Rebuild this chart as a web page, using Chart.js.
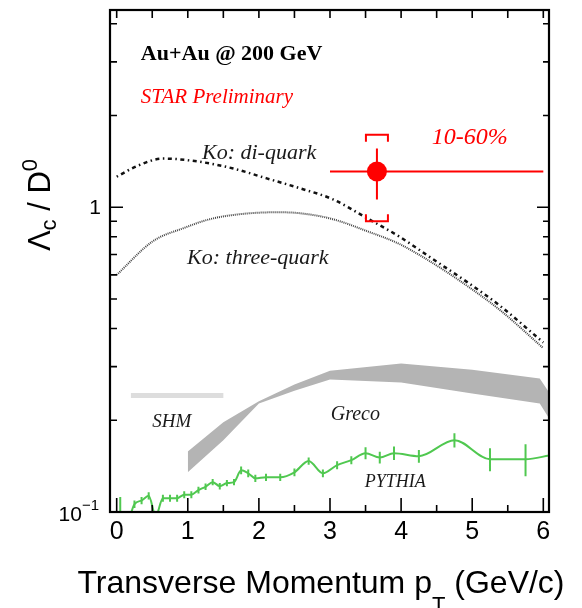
<!DOCTYPE html>
<html><head><meta charset="utf-8">
<script src="https://cdn.jsdelivr.net/npm/chart.js@4/dist/chart.umd.min.js"></script>
<style>html,body{margin:0;padding:0;background:#fff}#wrap{width:582px;height:608px}</style>
</head><body><div id="wrap"><canvas id="c" width="582" height="608"></canvas></div>
<script>
// ---------- data ----------
const xTickLabels = ['0','1','2','3','4','5','6'];
const xMajorTicks = [0,1,2,3,4,5,6];
const xMinorTicks = [0.5,1.5,2.5,3.5,4.5,5.5];
const yMajorTicks = [0.1,1];
const yMinorTicks = [0.2,0.3,0.4,0.5,0.6,0.7,0.8,0.9,2,3,4];

const koDiX = [0, 0.3, 0.65, 1.17, 1.64, 2.11, 2.58, 3.04, 3.52, 3.98, 4.45, 4.93, 5.39, 6.0];
const koDiY = [1.26, 1.37, 1.445, 1.41, 1.34, 1.244, 1.154, 1.062, 0.921, 0.80, 0.675, 0.568, 0.475, 0.36];

const koThreeX = [0, 0.51, 0.94, 1.31, 1.73, 2.25, 2.58, 3.04, 3.52, 3.98, 4.45, 4.93, 5.39, 6.0];
const koThreeY = [0.60, 0.774, 0.854, 0.914, 0.949, 0.963, 0.956, 0.914, 0.835, 0.757, 0.655, 0.552, 0.46, 0.345];

const grecoX = [1.0, 1.5, 2.0, 2.5, 3.0, 4.0, 5.0, 5.95, 6.08];
const grecoHi = [0.158, 0.197, 0.231, 0.262, 0.291, 0.307, 0.293, 0.274, 0.247];
const grecoLo = [0.135, 0.172, 0.227, 0.250, 0.272, 0.266, 0.245, 0.227, 0.203];

const shmX = [0.2, 1.5];
const shmY = [0.241, 0.241];

const pyX = [0.05,0.25,0.35,0.45,0.55,0.65,0.75,0.85,0.95,1.05,1.15,1.25,1.35,1.45,1.55,1.65,1.75,1.85,1.95,2.1,2.3,2.5,2.7,2.9,3.1,3.3,3.5,3.7,3.9,4.25,4.75,5.25,5.75,6.1];
const pyY = [0.07,0.106,0.109,0.113,0.097,0.111,0.111,0.111,0.114,0.114,0.118,0.121,0.1253,0.1216,0.1244,0.1253,0.137,0.134,0.129,0.130,0.130,0.135,0.147,0.134,0.1425,0.148,0.156,0.151,0.156,0.1525,0.172,0.149,0.149,0.1535];
const pyErr = [0.042,0.003,0.003,0.003,0.003,0.003,0.003,0.003,0.003,0.003,0.003,0.003,0.003,0.003,0.003,0.003,0.004,0.004,0.0035,0.0035,0.0035,0.004,0.004,0.004,0.0043,0.0045,0.007,0.0068,0.008,0.0073,0.0093,0.013,0.018,0];

const starX = [3.66];
const starY = [1.31];
const starXLo = [0.66], starXHi = [2.34];
const starStatLo = [0.25], starStatHi = [0.25];
const starSysLo = [0.41], starSysHi = [0.42];

// ---------- helpers ----------
const pts = (xs, ys) => xs.map((v, i) => ({x: v, y: ys[i]}));
const SANS = '"Liberation Sans", Arial, sans-serif';
const SERIF = '"Liberation Serif", "Times New Roman", serif';

const errorPlugin = {
  id: 'errs',
  beforeDatasetDraw(chart, args) {
    const ds = chart.data.datasets[args.index];
    if (ds.label !== 'STAR') return;
    const {ctx, chartArea: a, scales: {x, y}} = chart;
    ctx.save();
    ctx.beginPath(); ctx.rect(a.left, a.top, a.right - a.left, a.bottom - a.top); ctx.clip();
    ctx.strokeStyle = '#ff0000'; ctx.lineWidth = 2;
    starX.forEach((xv, i) => {
      const px = x.getPixelForValue(xv), py = y.getPixelForValue(starY[i]);
      ctx.beginPath();
      ctx.moveTo(x.getPixelForValue(xv - starXLo[i]), py);
      ctx.lineTo(x.getPixelForValue(xv + starXHi[i]), py);
      ctx.moveTo(px, y.getPixelForValue(starY[i] + starStatHi[i]));
      ctx.lineTo(px, y.getPixelForValue(starY[i] - starStatLo[i]));
      ctx.stroke();
      const top = y.getPixelForValue(starY[i] + starSysHi[i]);
      const bot = y.getPixelForValue(starY[i] - starSysLo[i]);
      const hw = 11, leg = 7;
      ctx.beginPath();
      ctx.moveTo(px - hw, top + leg); ctx.lineTo(px - hw, top); ctx.lineTo(px + hw, top); ctx.lineTo(px + hw, top + leg);
      ctx.moveTo(px - hw, bot - leg); ctx.lineTo(px - hw, bot); ctx.lineTo(px + hw, bot); ctx.lineTo(px + hw, bot - leg);
      ctx.stroke();
    });
    ctx.restore();
  },
  afterDatasetDraw(chart, args) {
    const ds = chart.data.datasets[args.index];
    if (ds.label !== 'PYTHIA') return;
    const {ctx, chartArea: a, scales: {x, y}} = chart;
    ctx.save();
    ctx.beginPath(); ctx.rect(a.left, a.top, a.right - a.left, a.bottom - a.top); ctx.clip();
    ctx.strokeStyle = ds.borderColor; ctx.lineWidth = 2;
    ctx.beginPath();
    pyX.forEach((xv, i) => {
      if (!pyErr[i]) return;
      const px = x.getPixelForValue(xv);
      ctx.moveTo(px, y.getPixelForValue(pyY[i] + pyErr[i]));
      ctx.lineTo(px, y.getPixelForValue(Math.max(pyY[i] - pyErr[i], 0.01)));
    });
    ctx.stroke();
    ctx.restore();
  }
};

const framePlugin = {
  id: 'frame',
  afterDraw(chart) {
    const {ctx, chartArea: a, scales: {x, y}} = chart;
    ctx.save();
    ctx.strokeStyle = '#000';
    ctx.lineWidth = 1.6;
    ctx.beginPath();
    xMajorTicks.forEach(v => { const p = x.getPixelForValue(v);
      ctx.moveTo(p, a.bottom); ctx.lineTo(p, a.bottom - 14);
      ctx.moveTo(p, a.top); ctx.lineTo(p, a.top + 8); });
    xMinorTicks.forEach(v => { const p = x.getPixelForValue(v);
      ctx.moveTo(p, a.bottom); ctx.lineTo(p, a.bottom - 7);
      ctx.moveTo(p, a.top); ctx.lineTo(p, a.top + 8); });
    yMajorTicks.forEach(v => { const p = y.getPixelForValue(v);
      ctx.moveTo(a.left, p); ctx.lineTo(a.left + 13, p);
      ctx.moveTo(a.right, p); ctx.lineTo(a.right - 12, p); });
    yMinorTicks.forEach(v => { const p = y.getPixelForValue(v);
      ctx.moveTo(a.left, p); ctx.lineTo(a.left + 7, p);
      ctx.moveTo(a.right, p); ctx.lineTo(a.right - 6, p); });
    ctx.stroke();
    ctx.lineWidth = 2.2;
    ctx.strokeRect(a.left, a.top, a.right - a.left, a.bottom - a.top);

    // tick labels
    ctx.fillStyle = '#000';
    ctx.font = '25px ' + SANS;
    ctx.textAlign = 'center'; ctx.textBaseline = 'alphabetic';
    xMajorTicks.forEach((v, i) => ctx.fillText(xTickLabels[i], x.getPixelForValue(v), a.bottom + 27));
    ctx.font = '21px ' + SANS;
    ctx.textAlign = 'right';
    ctx.fillText('1', a.left - 9, y.getPixelForValue(1) + 7);
    const yb = y.getPixelForValue(0.1);
    ctx.font = '15px ' + SANS;
    const supW = ctx.measureText('\u22121').width;
    ctx.fillText('\u22121', a.left - 11, yb - 2);
    ctx.font = '21px ' + SANS;
    ctx.fillText('10', a.left - 11 - supW, yb + 9);

    // x title
    const xt = [['Transverse Momentum p', 32, 0], ['T', 22, 19], [' (GeV/c)', 32, 0]];
    let tw = 0;
    xt.forEach(p => { ctx.font = p[1] + 'px ' + SANS; tw += ctx.measureText(p[0]).width; });
    let cx = 321 - tw / 2;
    ctx.textAlign = 'left';
    xt.forEach(p => { ctx.font = p[1] + 'px ' + SANS; ctx.fillText(p[0], cx, 593 + p[2]); cx += ctx.measureText(p[0]).width; });

    // y title
    ctx.save();
    ctx.translate(50, 205);
    ctx.rotate(-Math.PI / 2);
    const yt = [['\u039B', 31, 0], ['c', 22, 6], [' / D', 31, 0], ['0', 22, -13]];
    tw = 0;
    yt.forEach(p => { ctx.font = p[1] + 'px ' + SANS; tw += ctx.measureText(p[0]).width; });
    cx = -tw / 2;
    yt.forEach(p => { ctx.font = p[1] + 'px ' + SANS; ctx.fillText(p[0], cx, p[2]); cx += ctx.measureText(p[0]).width; });
    ctx.restore();

    // annotations
    const txt = (s, xv, yv, font, color) => {
      ctx.font = font; ctx.fillStyle = color; ctx.textAlign = 'left';
      ctx.fillText(s, x.getPixelForValue(xv), y.getPixelForValue(yv));
    };
    txt('Au+Au @ 200 GeV', 0.34, 3.05, 'bold 22px ' + SERIF, '#000');
    txt('STAR Preliminary', 0.34, 2.20, 'italic 21px ' + SERIF, '#ff0000');
    txt('10-60%', 4.43, 1.607, 'italic 24px ' + SERIF, '#ff0000');
    txt('Ko: di-quark', 1.20, 1.435, 'italic 22px ' + SERIF, '#1a1a1a');
    txt('Ko: three-quark', 0.99, 0.651, 'italic 22px ' + SERIF, '#1a1a1a');
    txt('SHM', 0.50, 0.19, 'italic 19px ' + SERIF, '#1a1a1a');
    txt('Greco', 3.01, 0.201, 'italic 20px ' + SERIF, '#1a1a1a');
    txt('PYTHIA', 3.49, 0.1207, 'italic 18px ' + SERIF, '#1a1a1a');
    ctx.restore();
  }
};

new Chart(document.getElementById('c'), {
  type: 'line',
  data: {
    datasets: [
      { label: 'STAR', data: pts(starX, starY), showLine: false, pointRadius: 10, pointBackgroundColor: '#ff0000', pointBorderWidth: 0, borderColor: '#ff0000', order: 0 },
      { label: 'Ko di-quark', data: pts(koDiX, koDiY), borderColor: '#111', borderWidth: 2.5, borderDash: [1.5, 3.5, 4, 3.5], pointRadius: 0, cubicInterpolationMode: 'monotone', fill: false, order: 1 },
      { label: 'Ko three-quark', data: pts(koThreeX, koThreeY), borderColor: '#444', borderWidth: 2, borderDash: [1, 1], pointRadius: 0, cubicInterpolationMode: 'monotone', fill: false, order: 1 },
      { label: 'PYTHIA', data: pts(pyX, pyY), borderColor: '#50c850', borderWidth: 2, pointRadius: 0, cubicInterpolationMode: 'monotone', fill: false, order: 2 },
      { label: 'SHM', data: pts(shmX, shmY), borderColor: '#dddddd', borderWidth: 5, pointRadius: 0, fill: false, order: 3 },
      { label: 'Greco hi', data: pts(grecoX, grecoHi), borderColor: 'rgba(0,0,0,0)', borderWidth: 0, pointRadius: 0, fill: '+1', backgroundColor: '#b4b4b4', order: 4 },
      { label: 'Greco lo', data: pts(grecoX, grecoLo), borderColor: 'rgba(0,0,0,0)', borderWidth: 0, pointRadius: 0, fill: false, order: 5 }
    ]
  },
  options: {
    responsive: false, animation: false, devicePixelRatio: 1,
    layout: { padding: { left: 110, top: 7, right: 33, bottom: 96 } },
    scales: {
      x: { type: 'linear', min: -0.094, max: 6.08, display: false },
      y: { type: 'logarithmic', min: 0.1, max: 4.44, display: false }
    },
    plugins: { legend: { display: false }, tooltip: { enabled: false } },
    elements: { line: { tension: 0 } }
  },
  plugins: [errorPlugin, framePlugin]
});
</script></body></html>
